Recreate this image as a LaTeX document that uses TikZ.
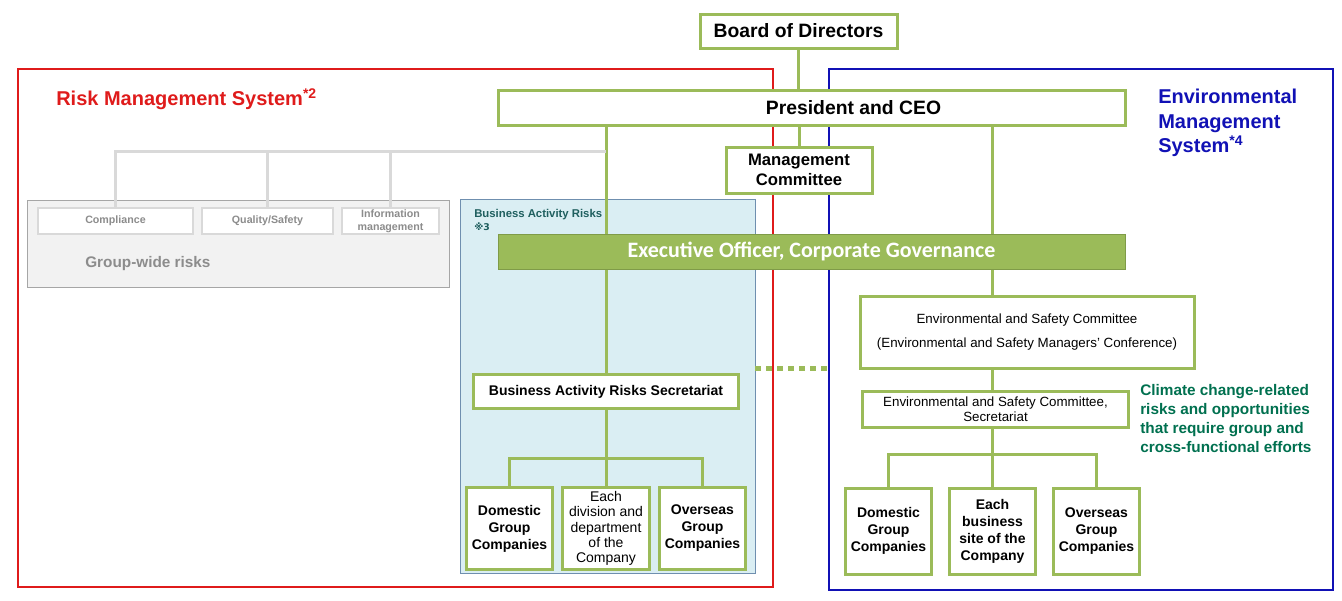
\documentclass[tikz,border=0pt]{standalone}
\usepackage{fontspec}
\setmainfont{Liberation Sans}
\newfontfamily\calfont{Carlito}
\newfontfamily\dvfont{DejaVu Sans}
\usepackage{tikz}
\usetikzlibrary{positioning,backgrounds,calc}
\definecolor{leaf}{HTML}{9BBB59}
\definecolor{leafdark}{HTML}{7F9B48}
\definecolor{rmsred}{HTML}{DF1B1B}
\definecolor{emsblue}{HTML}{1111B5}
\definecolor{paleblue}{HTML}{DAEEF3}
\definecolor{paleedge}{HTML}{6F8FAF}
\definecolor{gwfill}{HTML}{F2F2F2}
\definecolor{gwedge}{HTML}{A6A6A6}
\definecolor{gwline}{HTML}{D9D9D9}
\definecolor{gwtext}{HTML}{8C8C8C}
\definecolor{climgreen}{HTML}{00704F}
\definecolor{bartitle}{HTML}{1F5F5F}
\tikzset{
    orgbox/.style={draw=leaf,fill=white,line width=2.25pt,inner sep=1pt,
      align=center,font=\bfseries},
    unitbox/.style={orgbox,minimum width=65pt,
      font=\fontsize{10.5}{12.75}\selectfont\bfseries},
    riskbox/.style={draw=gwline,fill=white,line width=1.5pt,minimum height=19.5pt,
      inner sep=1pt,align=center,text=gwtext,font=\fontsize{8}{10}\selectfont\bfseries},
    link/.style={draw=leaf,line width=2.25pt},
    greylink/.style={draw=gwline,line width=2.25pt},
    sysframe/.style={line width=2pt,inner sep=0pt},
    systitle/.style={font=\fontsize{15}{18.4}\selectfont\bfseries,inner sep=0pt,align=left}
}

\begin{document}
\begin{tikzpicture}[x=0.75pt,y=-0.75pt]
    \useasboundingbox (0,0) rectangle (1342,600);
    \node[orgbox,minimum width=147.75pt,minimum height=25.5pt,
      font=\fontsize{14.5}{17}\selectfont\bfseries] (board) at (798.5,31) {Board of Directors};
    \node[orgbox,minimum width=470.25pt,minimum height=26.25pt,
      font=\fontsize{14.5}{17}\selectfont\bfseries] (ceo) at (811.5,107.5) {\hspace*{63pt}President and CEO};
    \node[orgbox,minimum width=109.5pt,minimum height=34.5pt,
      font=\fontsize{12.5}{15}\selectfont\bfseries] (mgmt) at (799,170) {Management\\Committee};
    \node[draw=leafdark,fill=leaf,line width=0.75pt,minimum width=470.25pt,minimum height=26.25pt,
      text=white,font=\calfont\fontsize{16.5}{19}\selectfont\bfseries] (exec) at (811.5,251.5)
      {Executive Officer, Corporate Governance};
    \node[riskbox,minimum width=116pt] (comp) at (115.5,221) {Compliance};
    \node[riskbox,minimum width=98pt] (qual) at (267.5,221) {Quality/Safety};
    \node[riskbox,minimum width=73pt] (info) at (390.5,221) {Information\\management};
    \node[anchor=west,inner sep=0pt,text=gwtext,font=\fontsize{11.5}{13}\selectfont\bfseries]
      (gwlabel) at (85,264) {Group-wide risks};
    \node[anchor=north west,inner sep=0pt,align=left,text=bartitle,
      font=\fontsize{8.5}{9.5}\selectfont\bfseries] (bartitle) at (474,209)
      {Business Activity Risks\\{\dvfont\fontsize{7}{8}\selectfont\bfseries ※3}};
    \node[orgbox,minimum width=199pt,minimum height=26pt,
      font=\fontsize{10.5}{12}\selectfont\bfseries] (secr) at (606,391.5) {Business Activity Risks Secretariat};
    \node[unitbox,minimum height=62pt] (bdom) at (509.5,528.5) {Domestic\\Group\\Companies};
    \node[unitbox,minimum height=62pt,font=\fontsize{10.5}{11.5}\selectfont] (ediv) at (606,528.5)
      {Each\\division and\\department\\of the\\Company};
    \node[unitbox,minimum height=62pt] (bovs) at (702.5,528.5) {Overseas\\Group\\Companies};
    \node[orgbox,minimum width=250.5pt,minimum height=54pt,font=\fontsize{10}{12}\selectfont]
      (envc) at (1027,332) {Environmental and Safety Committee\\[6pt](Environmental and Safety Managers' Conference)};
    \node[orgbox,minimum width=199pt,minimum height=27pt,font=\fontsize{10}{11.25}\selectfont]
      (envs) at (995.5,409) {Environmental and Safety Committee,\\Secretariat};
    \node[unitbox,minimum height=64.5pt] (edom) at (888.5,531) {Domestic\\Group\\Companies};
    \node[unitbox,minimum height=64.5pt] (esite) at (992.5,531) {Each\\business\\site of the\\Company};
    \node[unitbox,minimum height=64.5pt] (eovs) at (1096.5,531) {Overseas\\Group\\Companies};
    \node[systitle,text=rmsred,anchor=west] (rmstitle) at (56,99) {Risk Management System\textsuperscript{*2}};
    \node[systitle,text=emsblue,anchor=north west] (emstitle) at (1158,89)
      {Environmental\\Management\\System\textsuperscript{*4}};
    \node[anchor=north west,inner sep=0pt,align=left,text=climgreen,
      font=\fontsize{11.5}{14.25}\selectfont\bfseries] (climate) at (1140,384)
      {Climate change-related\\risks and opportunities\\that require group and\\cross-functional efforts};
    \begin{scope}[on background layer]
        \node[sysframe,draw=rmsred,minimum width=566.25pt,minimum height=388.5pt] (rmsframe) at (395.5,328) {};
        \node[sysframe,draw=emsblue,minimum width=378pt,minimum height=390.75pt] (emsframe) at (1081,329.5) {};
        \node[draw=paleedge,fill=paleblue,line width=0.6pt,inner sep=0pt,
          minimum width=221.25pt,minimum height=280.5pt] (barbox) at (607.5,386) {};
        \node[draw=gwedge,fill=gwfill,line width=0.75pt,inner sep=0pt,
          minimum width=316.5pt,minimum height=65.25pt] (gwarea) at (238,243.5) {};
        \draw[link] (board.south) -- (board.south |- ceo.north);
        \draw[link] (mgmt.north) -- (mgmt.north |- ceo.south);
        \draw[link] (secr.north) -- (secr.north |- ceo.south);
        \draw[link] (esite.north |- ceo.south) -- (esite.north |- envc.north);
        \draw[link] (esite.north |- envc.south) -- (esite.north |- envs.north);
        \draw[link] (secr.south) -- (ediv.north);
        \draw[link] (bdom.north) -- ++(0,-27) -| (bovs.north);
        \draw[link] (esite.north |- envs.south) -- (esite.north);
        \draw[link] (edom.north) -- ++(0,-32) -| (eovs.north);
        \draw[greylink] (comp.north) |- (secr.north |- 0,151);
        \draw[greylink] (qual.north) -- (qual.north |- 0,151);
        \draw[greylink] (info.north) -- (info.north |- 0,151);
        \draw[leaf,line width=3.75pt,dash pattern=on 4.5pt off 3.75pt]
          (barbox.east |- 0,368) -- (emsframe.west |- 0,368);
    \end{scope}
\end{tikzpicture}
\end{document}
